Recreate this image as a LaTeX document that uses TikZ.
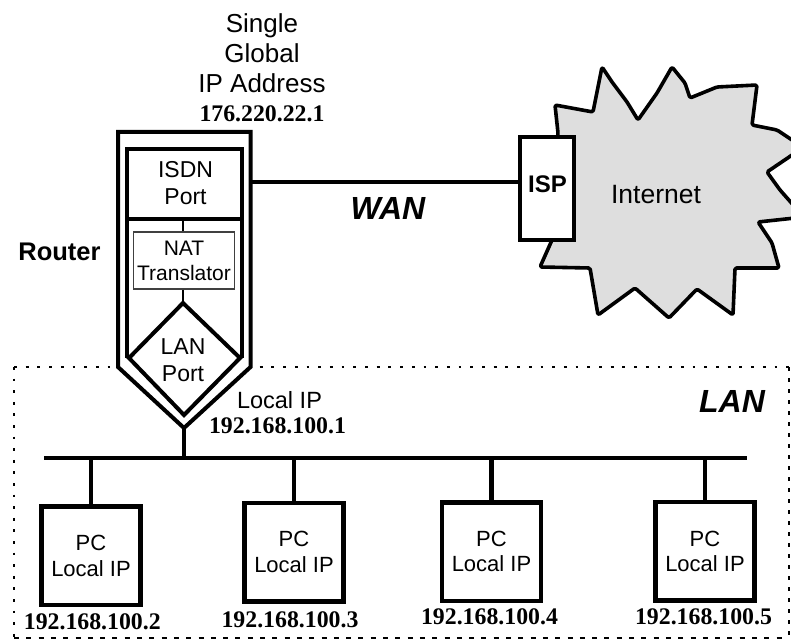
\documentclass[tikz,border=0pt]{standalone}
\usepackage{fontspec}
\setmainfont{Liberation Sans}
\newfontfamily\ipfont{Liberation Serif}
\tikzset{
  thick line/.style={line width=4pt,line join=miter,black},
  thin link/.style={line width=1.6pt,black},
  pcbox/.style={draw,line width=4.5pt,minimum width=99pt,minimum height=98.5pt,inner sep=0pt,align=center,font=\fontsize{22}{25.5}\selectfont},
  iplabel/.style={inner sep=0pt,font=\ipfont\bfseries\fontsize{23.8}{25}\selectfont},
  sanslabel/.style={inner sep=0pt,align=center,font=\fontsize{23}{27}\selectfont},
  boldit/.style={inner sep=0pt,font=\bfseries\itshape\fontsize{32}{34}\selectfont},
}
\begin{document}
\begin{tikzpicture}[x=1pt,y=-1pt]
\useasboundingbox (0,0) rectangle (791,639);
% LAN boundary
\coordinate (lanTL) at (14,367);
\coordinate (lanTR) at (788.5,367);
\coordinate (lanBL) at (14,638);
\coordinate (lanBR) at (788.5,638);
\draw[line width=2.8pt,dash pattern=on 2.8pt off 8.9pt] (lanTL) -- (lanTR);
\draw[line width=2.8pt,dash pattern=on 2.8pt off 8.8pt] (lanTL) -- (lanBL);
\draw[line width=2pt,dash pattern=on 4pt off 7pt] (lanTR) -- (lanBR);
\draw[line width=2pt,dash pattern=on 5pt off 7.3pt] (lanBL) -- (lanBR);
% Internet cloud
\begin{scope}
\clip (0,0) rectangle (791,639);
\draw[line width=3.6pt,fill=black!13,line join=round,rounded corners=1.5pt]
 (558,133) -- (555,105) -- (593,112) -- (602,67) -- (612,82) -- (627,102) -- (638,120)
 -- (657,93) -- (672,67) -- (685,83) -- (690,98) -- (717,87) -- (757,85) -- (752,125)
 -- (777,130) -- (795,142) -- (795,153) -- (767,172) -- (780,190) -- (795,207)
 -- (795,218) -- (758,222) -- (772,243) -- (779,268) -- (735,268) -- (733,315)
 -- (697,289) -- (669,318) -- (635,288) -- (598,315) -- (590,268) -- (540,267) -- (552,240) -- cycle;
\end{scope}
\node[inner sep=0pt,font=\fontsize{26.5}{28}\selectfont] (internet) at (656,195) {Internet};
% ISP
\node[draw,fill=white,line width=4pt,minimum width=54pt,minimum height=103pt,inner sep=0pt] (isp) at (547,188.5) {};
\node[inner sep=0pt,font=\bfseries\fontsize{24}{26}\selectfont] (isplabel) at (547.5,184) {ISP};
% Router outline
\coordinate (rTL) at (118,132);
\coordinate (rTR) at (250.5,132);
\coordinate (rRB) at (250.5,367);
\coordinate (rBot) at (184,428);
\coordinate (rLB) at (118,367);
\fill[white] (rTL) -- (rTR) -- (rRB) -- (rBot) -- (rLB) -- cycle;
\draw[thick line] (rTL) -- (rTR) -- (rRB) -- (rBot) -- (rLB) -- cycle;
% inner frame
\coordinate (iTL) at (127,149);
\coordinate (iTR) at (242,149);
\coordinate (iBL) at (127,358);
\coordinate (iBR) at (242,358);
\draw[line width=4.5pt] (iBL) -- (iTL) -- (iTR) -- (iBR);
\node[sanslabel] (isdn) at (185.5,183) {ISDN\\Port};
\coordinate (sepL) at (127,219);
\coordinate (sepR) at (242,219);
\draw[line width=4.5pt] (sepL) -- (sepR);
\node[draw=black!75,line width=1.5pt,minimum width=101pt,minimum height=57pt,inner sep=0pt,align=center,font=\fontsize{21}{25}\selectfont] (nat) at (184,260.5) {NAT\\Translator};
% LAN port diamond
\coordinate (dT) at (183,303);
\coordinate (dR) at (240,358);
\coordinate (dB) at (184,415);
\coordinate (dL) at (129,358);
\draw[line width=4pt,line join=miter] (dT) -- (dR) -- (dB) -- (dL) -- cycle;
\node[sanslabel] (lanport) at (183,360) {LAN\\Port};
\draw[thin link] (nat.north -| dT) -- (sepL -| dT);
\draw[thin link] (nat.south -| dT) -- (dT);
% Bus
\coordinate (busL) at (44,458);
\coordinate (busR) at (747,458);
\draw[thick line] (busL) -- (busR);
\draw[thick line] (rBot) -- (rBot |- busL);
% WAN
\draw[line width=3.2pt] (rTR |- isp.west) ++(0,-6.5) coordinate (wanA) -- (isp.west |- wanA);
% PCs
\node[pcbox] (pc1) at (91,555.7) {PC\\Local IP};
\node[pcbox] (pc2) at (294,552) {PC\\Local IP};
\node[pcbox] (pc3) at (491.5,551.5) {PC\\Local IP};
\node[pcbox] (pc4) at (705,551.2) {PC\\Local IP};
\foreach \p in {pc1,pc2,pc3,pc4} \draw[line width=4.5pt] (\p.north) -- (\p.north |- busL);
% Labels
\node[sanslabel,font=\fontsize{26}{30}\selectfont] (global) at (262,53.5) {Single\\Global\\IP Address};
\node[iplabel] (gip) at (262,114) {176.220.22.1};
\node[inner sep=0pt,font=\bfseries\fontsize{25.5}{28}\selectfont] (router) at (59.5,252) {Router};
\node[boldit] (wan) at (388,208) {WAN};
\node[boldit] (lan) at (732,401) {LAN};
\node[sanslabel,font=\fontsize{23.5}{27}\selectfont] (localip) at (279.5,400) {Local IP};
\node[iplabel] (lip) at (277.5,426) {192.168.100.1};
\node[iplabel] (ip2) at (92.3,622) {192.168.100.2};
\node[iplabel] (ip3) at (290,620) {192.168.100.3};
\node[iplabel] (ip4) at (489.5,617) {192.168.100.4};
\node[iplabel] (ip5) at (703.5,617) {192.168.100.5};
\end{tikzpicture}
\end{document}
